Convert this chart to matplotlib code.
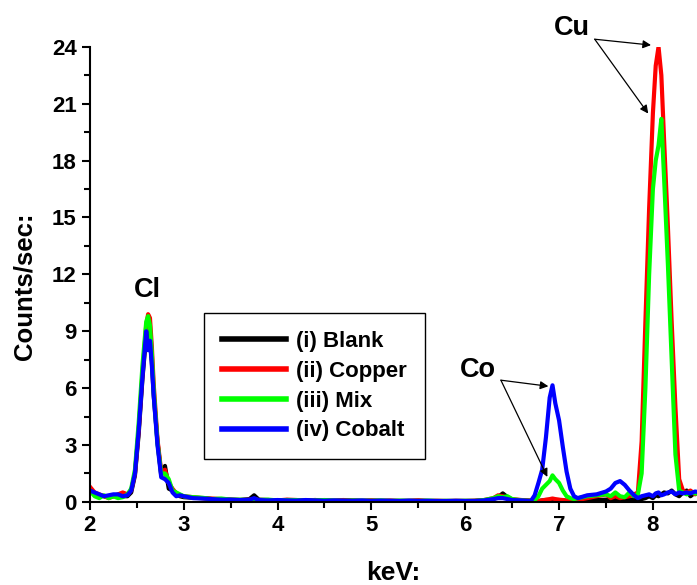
import numpy as np
import matplotlib.pyplot as plt

# EDX spectra, counts/sec vs energy (keV)
kev = [2.00, 2.05, 2.10, 2.15, 2.20, 2.25, 2.30, 2.35, 2.40,
       2.44, 2.48, 2.52, 2.56, 2.60, 2.62, 2.64, 2.66, 2.68, 2.72, 2.76, 2.80, 2.84, 2.88, 2.92, 2.96, 3.00,
       3.1, 3.2, 3.3, 3.4, 3.5, 3.6, 3.7, 3.75, 3.8, 3.9, 4.0, 4.1, 4.2, 4.3, 4.4, 4.5, 4.6, 4.7, 4.8, 4.9,
       5.0, 5.1, 5.2, 5.3, 5.4, 5.5, 5.6, 5.7, 5.8, 5.9, 6.0, 6.1, 6.2,
       6.3, 6.35, 6.4, 6.45, 6.5, 6.6, 6.7,
       6.74, 6.78, 6.82, 6.86, 6.90, 6.93, 6.96, 7.00, 7.04, 7.08, 7.12, 7.16, 7.20,
       7.3, 7.4, 7.5, 7.55, 7.6, 7.65, 7.7, 7.75, 7.8,
       7.84, 7.88, 7.92, 7.96, 8.00, 8.03, 8.06, 8.09, 8.12, 8.16, 8.20, 8.24, 8.28, 8.32,
       8.36, 8.40, 8.45, 8.50]

blank = [0.5, 0.45, 0.35, 0.3, 0.25, 0.3, 0.35, 0.3, 0.3,
         0.5, 1.4, 3.6, 6.5, 8.8, 9.0, 8.6, 7.4, 5.6, 3.2, 1.4, 1.9, 0.7, 0.6, 0.4, 0.3, 0.25,
         0.22, 0.2, 0.15, 0.15, 0.12, 0.1, 0.15, 0.35, 0.12, 0.1, 0.08, 0.1, 0.08, 0.08, 0.1, 0.07, 0.06, 0.08, 0.07, 0.05,
         0.07, 0.05, 0.06, 0.05, 0.05, 0.07, 0.05, 0.05, 0.04, 0.05, 0.05, 0.06, 0.08,
         0.15, 0.25, 0.45, 0.25, 0.1, 0.08, 0.05,
         0.05, 0.05, 0.08, 0.1, 0.1, 0.12, 0.1, 0.1, 0.08, 0.06, 0.05, 0.05, 0.08,
         0.1, 0.1, 0.12, 0.1, 0.15, 0.1, 0.12, 0.1, 0.15,
         0.1, 0.15, 0.2, 0.3, 0.2, 0.35, 0.3, 0.4, 0.5, 0.45, 0.6, 0.4, 0.3, 0.5,
         0.6, 0.3, 0.5, 0.4]

copper = [0.8, 0.5, 0.4, 0.3, 0.2, 0.3, 0.4, 0.5, 0.4,
          0.6, 1.5, 3.8, 6.8, 9.3, 9.9, 9.7, 8.2, 6.2, 3.3, 1.6, 1.7, 1.0, 0.7, 0.45, 0.35, 0.3,
          0.25, 0.2, 0.18, 0.15, 0.12, 0.1, 0.12, 0.15, 0.1, 0.1, 0.08, 0.12, 0.1, 0.08, 0.1, 0.08, 0.06, 0.1, 0.08, 0.06,
          0.08, 0.06, 0.07, 0.05, 0.06, 0.08, 0.05, 0.06, 0.05, 0.06, 0.05, 0.06, 0.1,
          0.2, 0.35, 0.3, 0.2, 0.15, 0.1, 0.08,
          0.05, 0.05, 0.08, 0.12, 0.15, 0.18, 0.15, 0.12, 0.1, 0.08, 0.05, 0.05, 0.1,
          0.2, 0.3, 0.4, 0.2, 0.3, 0.2, 0.25, 0.3, 0.4,
          0.5, 3.2, 9.5, 15.5, 20.5, 23.0, 24.0, 22.5, 19.0, 14.5, 9.5, 5.0, 1.2, 0.6,
          0.5, 0.6, 0.4, 0.5]

mix = [0.6, 0.3, 0.2, 0.35, 0.2, 0.3, 0.2, 0.25, 0.4,
       0.7, 1.7, 4.2, 7.2, 9.5, 9.8, 9.3, 7.8, 5.9, 3.1, 1.5, 1.5, 1.2, 0.6, 0.5, 0.4, 0.3,
       0.25, 0.22, 0.15, 0.18, 0.12, 0.12, 0.1, 0.12, 0.1, 0.12, 0.08, 0.1, 0.1, 0.07, 0.08, 0.1, 0.07, 0.06, 0.08, 0.07,
       0.06, 0.08, 0.05, 0.07, 0.06, 0.05, 0.07, 0.05, 0.06, 0.05, 0.06, 0.05, 0.1,
       0.2, 0.3, 0.25, 0.3, 0.15, 0.08, 0.06,
       0.1, 0.3, 0.7, 0.9, 1.1, 1.4, 1.2, 1.0, 0.6, 0.3, 0.2, 0.15, 0.2,
       0.3, 0.35, 0.4, 0.3, 0.5, 0.3, 0.25, 0.5, 0.3,
       0.4, 1.5, 6.0, 12.0, 16.5, 18.0, 18.8, 20.2, 17.0, 12.5, 7.5, 2.5, 0.6, 0.5,
       0.4, 0.5, 0.45, 0.4]

cobalt = [0.6, 0.5, 0.4, 0.3, 0.35, 0.4, 0.4, 0.3, 0.35,
          0.6, 1.5, 3.8, 6.6, 9.0, 8.0, 8.5, 7.2, 5.6, 3.0, 1.3, 1.2, 1.0, 0.5, 0.3, 0.35, 0.3,
          0.2, 0.18, 0.15, 0.12, 0.12, 0.1, 0.12, 0.2, 0.1, 0.08, 0.1, 0.08, 0.07, 0.1, 0.08, 0.06, 0.08, 0.07, 0.06, 0.08,
          0.05, 0.07, 0.06, 0.05, 0.07, 0.05, 0.06, 0.05, 0.05, 0.06, 0.05, 0.05, 0.08,
          0.15, 0.2, 0.2, 0.15, 0.1, 0.08, 0.05,
          0.35, 1.0, 1.7, 3.4, 5.5, 6.15, 5.2, 4.3, 2.9, 1.6, 0.7, 0.3, 0.2,
          0.35, 0.4, 0.55, 0.7, 1.0, 1.1, 0.9, 0.6, 0.35,
          0.2, 0.3, 0.35, 0.4, 0.3, 0.45, 0.5, 0.35, 0.4, 0.5, 0.55, 0.4, 0.5, 0.45,
          0.5, 0.45, 0.55, 0.5]

series = [("(i) Blank", blank, "#000000"),
          ("(ii) Copper", copper, "#ff0000"),
          ("(iii) Mix", mix, "#00ff00"),
          ("(iv) Cobalt", cobalt, "#0000ff")]

plt.rcParams['font.family'] = ['Liberation Sans', 'DejaVu Sans']
plt.rcParams['font.weight'] = 'bold'

fig = plt.figure(figsize=(6.97, 5.85), dpi=100)
ax = fig.add_axes([0.129, 0.142, 0.871, 0.778])

for label, counts, color in series:
    ax.plot(kev, counts, color=color, lw=3.0, label=label)

ax.set_xlim(2, 8.47)
ax.set_ylim(0, 24)
ax.set_xticks([2, 3, 4, 5, 6, 7, 8])
ax.set_xticks(np.arange(2.5, 8.5, 1.0), minor=True)
ax.set_yticks(np.arange(0, 25, 3))
ax.set_yticks(np.arange(1.5, 24, 3), minor=True)
ax.tick_params(which='both', direction='out', width=1.5, labelsize=16)
ax.tick_params(which='major', length=6)
ax.tick_params(which='minor', length=4)
for side in ['top', 'right']:
    ax.spines[side].set_visible(False)
for side in ['left', 'bottom']:
    ax.spines[side].set_linewidth(1.5)

ax.set_xlabel('keV:', fontsize=19, fontweight='bold', labelpad=18)
ax.set_ylabel('Counts/sec:', fontsize=18.5, fontweight='bold')
ax.yaxis.set_label_coords(-0.088, 0.474)

leg = ax.legend(loc='upper left', bbox_to_anchor=(0.188, 0.415), borderaxespad=0,
                fontsize=16, frameon=True, fancybox=False, edgecolor='black',
                framealpha=1, handlelength=2.9, labelspacing=0.4, borderpad=0.8,
                handletextpad=0.45)
leg.get_frame().set_linewidth(1.0)
for line in leg.get_lines():
    line.set_linewidth(4)

# peak labels and arrows
ax.text(2.61, 11.2, 'Cl', fontsize=19.5, fontweight='bold', ha='center', va='center')
ax.text(6.14, 6.95, 'Co', fontsize=19.5, fontweight='bold', ha='center', va='center')
ax.text(7.14, 24.98, 'Cu', fontsize=19.5, fontweight='bold', ha='center', va='center',
        clip_on=False)

arrow = dict(arrowstyle='-|>', color='black', lw=0.9, mutation_scale=12,
             shrinkA=0, shrinkB=0)
for tip in [(6.886, 6.10), (6.875, 1.32)]:
    ax.annotate('', xy=tip, xytext=(6.38, 6.42), arrowprops=arrow)
for tip in [(7.98, 24.09), (7.95, 20.48)]:
    ax.annotate('', xy=tip, xytext=(7.38, 24.4), arrowprops=arrow,
                annotation_clip=False)

fig.savefig('out.png', dpi=100)
